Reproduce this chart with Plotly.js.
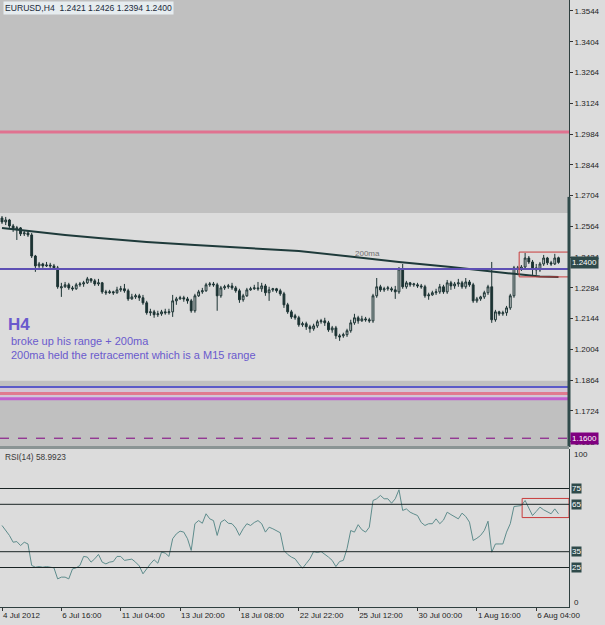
<!DOCTYPE html>
<html>
<head>
<meta charset="utf-8">
<script src="https://cdn.plot.ly/plotly-3.0.1.min.js"></script>
<style>html,body{margin:0;padding:0;background:#dcdcdc;}#chart{width:605px;height:625px;}</style>
</head>
<body>
<div id="chart"></div>
<script>
// ---- EURUSD H4 candles (bar index 0..150) ----
const open = [
1.2602,1.2584,1.2593,1.2566,1.2552,1.2557,1.2530,1.2534,1.2525,1.2429,
1.2384,1.2393,1.2384,1.2388,1.2384,1.2375,1.2284,1.2289,1.2298,1.2284,
1.2280,1.2298,1.2302,1.2307,1.2325,1.2316,1.2302,1.2307,1.2266,1.2262,
1.2266,1.2262,1.2275,1.2280,1.2271,1.2234,1.2243,1.2248,1.2239,1.2216,
1.2171,1.2175,1.2162,1.2166,1.2175,1.2171,1.2175,1.2225,1.2234,1.2239,
1.2234,1.2225,1.2180,1.2248,1.2266,1.2271,1.2298,1.2302,1.2298,1.2248,
1.2284,1.2289,1.2293,1.2284,1.2271,1.2230,1.2248,1.2275,1.2280,1.2284,
1.2280,1.2293,1.2262,1.2275,1.2280,1.2271,1.2257,1.2207,1.2175,1.2157,
1.2148,1.2116,1.2121,1.2107,1.2098,1.2111,1.2130,1.2134,1.2125,1.2093,
1.2102,1.2066,1.2066,1.2071,1.2089,1.2125,1.2148,1.2134,1.2143,1.2139,
1.2134,1.2248,1.2289,1.2275,1.2280,1.2280,1.2275,1.2266,1.2370,1.2289,
1.2307,1.2298,1.2298,1.2293,1.2289,1.2248,1.2252,1.2262,1.2266,1.2289,
1.2266,1.2307,1.2293,1.2302,1.2307,1.2289,1.2311,1.2298,1.2225,1.2234,
1.2243,1.2262,1.2289,1.2139,1.2175,1.2166,1.2171,1.2193,1.2248,1.2375,
1.2370,1.2379,1.2420,1.2402,1.2375,1.2366,1.2393,1.2420,1.2398,1.2393,
1.2421];
const high = [
1.2611,1.2607,1.2598,1.2575,1.2566,1.2561,1.2543,1.2543,1.2534,1.2434,
1.2402,1.2398,1.2402,1.2398,1.2393,1.2384,1.2307,1.2311,1.2307,1.2293,
1.2307,1.2311,1.2316,1.2334,1.2329,1.2325,1.2325,1.2311,1.2275,1.2275,
1.2271,1.2289,1.2293,1.2302,1.2280,1.2257,1.2257,1.2257,1.2252,1.2225,
1.2189,1.2184,1.2180,1.2184,1.2189,1.2189,1.2252,1.2243,1.2248,1.2248,
1.2243,1.2234,1.2257,1.2275,1.2284,1.2307,1.2311,1.2311,1.2307,1.2293,
1.2298,1.2302,1.2307,1.2293,1.2280,1.2257,1.2284,1.2289,1.2298,1.2311,
1.2307,1.2302,1.2289,1.2284,1.2284,1.2280,1.2266,1.2216,1.2184,1.2166,
1.2157,1.2130,1.2130,1.2116,1.2121,1.2139,1.2143,1.2148,1.2134,1.2111,
1.2111,1.2075,1.2080,1.2098,1.2139,1.2166,1.2157,1.2157,1.2152,1.2148,
1.2257,1.2329,1.2298,1.2289,1.2293,1.2289,1.2293,1.2379,1.2393,1.2316,
1.2311,1.2307,1.2307,1.2302,1.2298,1.2262,1.2271,1.2280,1.2302,1.2298,
1.2320,1.2316,1.2311,1.2325,1.2316,1.2329,1.2320,1.2307,1.2243,1.2248,
1.2271,1.2298,1.2402,1.2184,1.2180,1.2180,1.2202,1.2257,1.2384,1.2384,
1.2388,1.2443,1.2429,1.2411,1.2393,1.2402,1.2434,1.2425,1.2407,1.2439,
1.2426];
const low = [
1.2575,1.2570,1.2557,1.2539,1.2502,1.2520,1.2520,1.2516,1.2420,1.2357,
1.2375,1.2375,1.2379,1.2375,1.2366,1.2280,1.2243,1.2284,1.2275,1.2271,
1.2275,1.2289,1.2289,1.2302,1.2307,1.2293,1.2293,1.2257,1.2252,1.2257,
1.2252,1.2257,1.2266,1.2262,1.2225,1.2230,1.2234,1.2225,1.2207,1.2162,
1.2157,1.2148,1.2152,1.2157,1.2162,1.2162,1.2152,1.2207,1.2230,1.2221,
1.2212,1.2171,1.2171,1.2243,1.2257,1.2266,1.2289,1.2289,1.2180,1.2239,
1.2275,1.2280,1.2275,1.2262,1.2216,1.2221,1.2243,1.2271,1.2275,1.2271,
1.2266,1.2248,1.2225,1.2266,1.2262,1.2248,1.2193,1.2166,1.2143,1.2139,
1.2107,1.2107,1.2093,1.2080,1.2089,1.2102,1.2121,1.2111,1.2084,1.2080,
1.2052,1.2043,1.2057,1.2061,1.2080,1.2116,1.2121,1.2130,1.2130,1.2125,
1.2125,1.2239,1.2266,1.2266,1.2271,1.2266,1.2234,1.2257,1.2280,1.2280,
1.2289,1.2289,1.2284,1.2280,1.2239,1.2230,1.2248,1.2252,1.2257,1.2257,
1.2257,1.2275,1.2280,1.2289,1.2280,1.2280,1.2289,1.2216,1.2216,1.2225,
1.2234,1.2252,1.2125,1.2130,1.2157,1.2157,1.2157,1.2184,1.2239,1.2352,
1.2361,1.2370,1.2393,1.2343,1.2343,1.2357,1.2384,1.2388,1.2384,1.2388,
1.2394];
const close = [
1.2584,1.2593,1.2566,1.2552,1.2557,1.2530,1.2534,1.2525,1.2429,1.2384,
1.2393,1.2384,1.2388,1.2384,1.2375,1.2289,1.2289,1.2298,1.2284,1.2280,
1.2298,1.2302,1.2307,1.2325,1.2316,1.2302,1.2307,1.2266,1.2262,1.2266,
1.2262,1.2275,1.2280,1.2271,1.2234,1.2243,1.2248,1.2239,1.2216,1.2171,
1.2175,1.2162,1.2166,1.2175,1.2171,1.2175,1.2225,1.2234,1.2239,1.2234,
1.2225,1.2180,1.2248,1.2266,1.2271,1.2298,1.2302,1.2298,1.2248,1.2284,
1.2289,1.2293,1.2284,1.2271,1.2230,1.2248,1.2275,1.2280,1.2284,1.2280,
1.2293,1.2262,1.2275,1.2280,1.2271,1.2257,1.2207,1.2175,1.2152,1.2148,
1.2116,1.2121,1.2107,1.2098,1.2111,1.2130,1.2134,1.2125,1.2093,1.2102,
1.2066,1.2061,1.2071,1.2089,1.2125,1.2148,1.2134,1.2143,1.2139,1.2134,
1.2248,1.2289,1.2275,1.2280,1.2284,1.2275,1.2266,1.2370,1.2289,1.2307,
1.2298,1.2302,1.2293,1.2289,1.2248,1.2252,1.2262,1.2266,1.2289,1.2266,
1.2307,1.2293,1.2302,1.2307,1.2289,1.2311,1.2298,1.2225,1.2234,1.2243,
1.2262,1.2289,1.2139,1.2175,1.2166,1.2171,1.2193,1.2248,1.2375,1.2370,
1.2379,1.2420,1.2402,1.2375,1.2366,1.2393,1.2420,1.2398,1.2393,1.2420,
1.2400];

// ---- 200 MA (read at vertices) ----
const maBar = [0, 9, 17, 26, 39, 52, 76, 80, 95, 107, 121, 132, 138, 145, 150];
const maVal = [1.2557,1.2539,1.2525,1.2511,1.2493,1.2479,1.2457,1.2452,1.2425,1.2402,1.2379,1.2361,1.2348,1.2336,1.2334];

// ---- RSI(14) per bar ----
const rsi = [
51.6,48.4,45.3,41.0,41.4,38.9,41.0,39.9,26.3,25.2,
25.6,25.2,25.6,25.2,24.8,17.8,18.9,18.9,17.8,24.1,
24.8,26.3,32.0,31.6,28.4,30.5,33.3,28.4,27.3,28.4,
28.8,32.0,32.0,29.5,29.9,30.3,28.4,26.0,21.0,24.5,
27.3,29.9,27.7,34.7,34.1,32.0,43.2,46.3,48.0,47.4,
43.2,35.8,52.7,54.7,53.0,59.0,55.8,54.7,45.3,53.7,
55.2,53.0,52.7,50.0,45.3,49.5,52.7,51.6,53.5,54.7,
52.7,47.4,50.5,49.5,48.4,47.0,35.8,33.3,31.6,30.5,
27.3,24.5,27.5,30.5,35.1,34.5,35.1,33.5,31.6,29.5,
25.6,28.8,29.5,36.9,48.4,47.4,52.1,48.9,47.4,50.5,
67.4,68.5,70.6,68.5,68.5,65.7,68.5,74.2,61.1,62.1,
60.0,58.9,57.9,53.5,51.6,52.7,52.7,55.8,52.7,55.0,
60.0,58.5,56.9,55.8,59.4,57.3,53.7,42.1,43.5,45.3,
48.4,54.3,34.7,39.9,39.9,39.9,47.4,52.7,63.6,63.9,
64.2,67.4,62.1,57.9,60.5,63.2,61.5,60.0,59.0,62.1,
58.99];
const rsiLevels = [75, 65, 35, 25];

// ---- axes ----
const tickBars = [0,16,32,48,64,80,96,112,128,144];
const tickText = ["4 Jul 2012","6 Jul 16:00","11 Jul 04:00","13 Jul 20:00","18 Jul 08:00","22 Jul 22:00","25 Jul 12:00","30 Jul 00:00","1 Aug 16:00","6 Aug 04:00"];
const priceTicks = [1.3544,1.3404,1.3264,1.3124,1.2984,1.2844,1.2704,1.2564,1.2424,1.2284,1.2144,1.2004,1.1864,1.1724,1.1584];

// ---- chart objects (levels / zones) ----
const upperZone = [1.2625, 1.3594];
const lowerZone = [1.1560, 1.1861];
const lowerBand = [1.1779, 1.1833];
const pinkTop = 1.2993;
const rangeLine = 1.2370;
const lowerBlue = 1.1833, lowerPink = 1.1804, lowerMagenta = 1.1779;
const dashedLevel = 1.1600;
const bidPrice = 1.2400;
const boxMain = {x0: 139.4, x1: 152.83, y0: 1.2334, y1: 1.2447};
const boxRsi = {x0: 140.2, x1: 152.83, y0: 56.6, y1: 68.7};

const bars = open.map((_, i) => i);
const FONT = 'Liberation Sans, Arial, sans-serif';
const PLOT_H = 607, PLOT_W = 569;
const py = p => (PLOT_H - p) / PLOT_H;
const px = p => p / PLOT_W;

const traces = [
  {type:'candlestick', x:bars, open:open, high:high, low:low, close:close,
   xaxis:'x', yaxis:'y', whiskerwidth:0, hoverinfo:'skip',
   increasing:{line:{color:'#1c3333', width:1}, fillcolor:'#d4d8d8'},
   decreasing:{line:{color:'#1c3333', width:1}, fillcolor:'#1c3333'}},
  {type:'scatter', mode:'lines', x:maBar, y:maVal, xaxis:'x', yaxis:'y',
   line:{color:'#1e3a3a', width:2}, hoverinfo:'skip'},
  {type:'scatter', mode:'lines', x:bars, y:rsi, xaxis:'x', yaxis:'y2',
   line:{color:'#5e8c8c', width:1}, hoverinfo:'skip'}
];

const hline = (y, color, width, dash, yref) => ({type:'line', xref:'paper', x0:0, x1:1, yref:yref||'y', y0:y, y1:y, line:{color:color, width:width, dash:dash||'solid'}, layer:'above'});

const shapes = [
  {type:'rect', xref:'paper', x0:0, x1:1, yref:'y', y0:upperZone[0], y1:upperZone[1], fillcolor:'#c0c0c0', line:{width:0}, layer:'below'},
  {type:'rect', xref:'paper', x0:0, x1:1, yref:'y', y0:lowerZone[0], y1:lowerZone[1], fillcolor:'#c0c0c0', line:{width:0}, layer:'below'},
  {type:'rect', xref:'paper', x0:0, x1:1, yref:'y', y0:lowerBand[0], y1:lowerBand[1], fillcolor:'#d2c6d6', line:{width:0}, layer:'below'},
  hline(pinkTop, '#e07290', 3),
  hline(rangeLine, '#5e50b4', 2),
  hline(lowerBlue, '#5a5ac8', 2),
  hline(lowerPink, '#e07a90', 3),
  hline(lowerMagenta, '#c060d0', 3),
  hline(dashedLevel, '#800080', 1, 'dash'),
  {type:'rect', xref:'x', yref:'y', x0:boxMain.x0, x1:boxMain.x1, y0:boxMain.y0, y1:boxMain.y1, line:{color:'#c83c3c', width:1}, layer:'above'},
  {type:'rect', xref:'x', yref:'y2', x0:boxRsi.x0, x1:boxRsi.x1, y0:boxRsi.y0, y1:boxRsi.y1, line:{color:'#c83c3c', width:1}, layer:'above'},
  {type:'line', xref:'paper', x0:1, x1:1, yref:'y', y0:1.1560, y1:1.2698, line:{color:'#2f4a4a', width:3}, layer:'above'},
  {type:'rect', xref:'paper', x0:0, x1:1, yref:'paper', y0:py(449), y1:py(446), fillcolor:'#8a9494', line:{width:0}, layer:'above'}
];
rsiLevels.forEach(v => shapes.push(hline(v, '#1a2424', 1, 'solid', 'y2')));

const ann = [];
ann.push({xref:'paper', yref:'paper', x:px(3), y:py(8), xanchor:'left', yanchor:'middle', showarrow:false,
  text:'EURUSD,H4  1.2421 1.2426 1.2394 1.2400', font:{family:FONT, size:8.6, color:'#1a2a3a'}, bgcolor:'#e6ecef', borderpad:1});
ann.push({xref:'paper', yref:'paper', x:px(3), y:py(457), xanchor:'left', yanchor:'middle', showarrow:false,
  text:'RSI(14) 58.9923', font:{family:FONT, size:8.3, color:'#3a3a3a'}});
ann.push({xref:'paper', yref:'paper', x:px(6), y:py(325), xanchor:'left', yanchor:'middle', showarrow:false,
  text:'<b>H4</b>', font:{family:FONT, size:17, color:'#6a5acd'}});
ann.push({xref:'paper', yref:'paper', x:px(9), y:py(341), xanchor:'left', yanchor:'middle', showarrow:false,
  text:'broke up his range + 200ma', font:{family:FONT, size:11, color:'#6a5acd'}});
ann.push({xref:'paper', yref:'paper', x:px(9), y:py(355), xanchor:'left', yanchor:'middle', showarrow:false,
  text:'200ma held the retracement which is a M15 range', font:{family:FONT, size:11, color:'#6a5acd'}});
ann.push({xref:'paper', yref:'paper', x:px(367), y:py(254), xanchor:'center', yanchor:'middle', showarrow:false,
  text:'200ma', font:{family:FONT, size:8, color:'#707070'}});
// price boxes on the right scale
ann.push({xref:'paper', yref:'y', x:1, y:bidPrice, xanchor:'left', yanchor:'middle', xshift:1, showarrow:false,
  text:bidPrice.toFixed(4), font:{family:FONT, size:8, color:'#ffffff'}, bgcolor:'#2f4a4a', borderpad:1});
ann.push({xref:'paper', yref:'y', x:1, y:dashedLevel, xanchor:'left', yanchor:'middle', xshift:1, showarrow:false,
  text:dashedLevel.toFixed(4), font:{family:FONT, size:8, color:'#ffffff'}, bgcolor:'#800080', borderpad:1});
// RSI scale
ann.push({xref:'paper', yref:'paper', x:1, y:py(454), xanchor:'left', yanchor:'middle', xshift:3, showarrow:false,
  text:'100', font:{family:FONT, size:8, color:'#1e1e1e'}});
ann.push({xref:'paper', yref:'paper', x:1, y:py(602), xanchor:'left', yanchor:'middle', xshift:3, showarrow:false,
  text:'0', font:{family:FONT, size:8, color:'#1e1e1e'}});
rsiLevels.forEach(v => ann.push({xref:'paper', yref:'y2', x:1, y:v, xanchor:'left', yanchor:'middle', xshift:2, showarrow:false,
  text:String(v), font:{family:FONT, size:8, color:'#ffffff'}, bgcolor:'#2f4a4a', borderpad:0}));

const layout = {
  width:605, height:625,
  margin:{l:0, r:36, t:0, b:18, pad:0},
  paper_bgcolor:'#dcdcdc', plot_bgcolor:'#dcdcdc',
  showlegend:false, hovermode:false,
  font:{family:FONT, size:8, color:'#1e1e1e'},
  xaxis:{range:[-0.54,152.83], anchor:'y2', tickmode:'array', tickvals:tickBars, ticktext:tickText,
    ticks:'outside', ticklen:3, tickcolor:'#333333', ticklabelposition:'outside right',
    showgrid:false, zeroline:false, showline:true, linecolor:'#2f3f3f', linewidth:1,
    rangeslider:{visible:false}, fixedrange:true, tickfont:{family:FONT, size:8, color:'#1e1e1e'}},
  yaxis:{domain:[py(447),1], range:[1.1560,1.3594], side:'right', anchor:'x',
    tickmode:'array', tickvals:priceTicks, ticktext:priceTicks.map(v => v.toFixed(4)),
    ticks:'outside', ticklen:3, tickcolor:'#333333', showgrid:false, zeroline:false,
    showline:true, linecolor:'#2f3f3f', linewidth:1, mirror:true, fixedrange:true,
    tickfont:{family:FONT, size:8, color:'#1e1e1e'}},
  yaxis2:{domain:[0,py(449)], range:[0,100], side:'right', anchor:'x', showticklabels:false, ticks:'',
    showgrid:false, zeroline:false, showline:true, linecolor:'#2f3f3f', linewidth:1, mirror:true, fixedrange:true},
  shapes:shapes, annotations:ann
};

Plotly.newPlot('chart', traces, layout, {displayModeBar:false, staticPlot:true});
</script>
</body>
</html>
